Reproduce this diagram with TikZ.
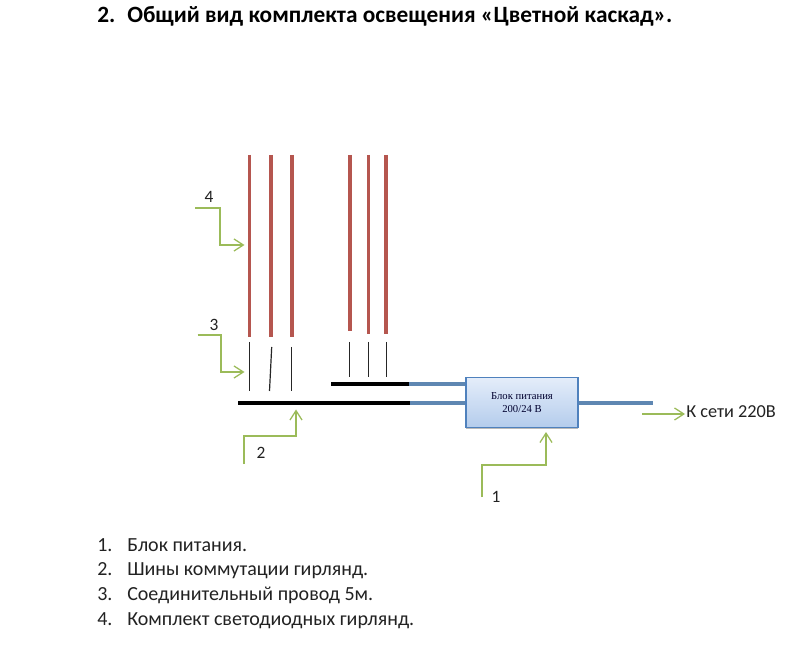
\documentclass[tikz,border=0pt]{standalone}
\usepackage{fontspec}
\setmainfont{Carlito}
\newfontfamily\boxfont{Liberation Serif}
\usetikzlibrary{arrows.meta,shadows}
\definecolor{garland}{HTML}{B5564F}
\definecolor{callout}{HTML}{9BBB59}
\definecolor{cable}{HTML}{5F87B2}
\definecolor{boxedge}{HTML}{4F81BD}
\definecolor{boxtop}{HTML}{E4EDFA}
\definecolor{boxbot}{HTML}{B4CCEC}
\definecolor{inktext}{HTML}{222222}
\tikzset{
  px/.style={x=0.75pt,y=-0.75pt},
  garlandline/.style={draw=garland,line width=2.5pt},
  wire/.style={draw=black!85,line width=0.9pt},
  bus/.style={draw=black,line width=3pt},
  cableline/.style={draw=cable,line width=3pt},
  calloutline/.style={draw=callout,line width=0.95pt,-{Straight Barb[length=7pt,width=9pt,line width=0.95pt]}},
  lbl/.style={font=\fontsize{13pt}{15pt}\selectfont,text=inktext,inner sep=0pt},
  listitem/.style={font=\fontsize{15pt}{18pt}\selectfont,text=inktext,inner sep=0pt,anchor=base west},
}
\begin{document}
\begin{tikzpicture}[px]
\useasboundingbox (0,0) rectangle (793,659);
\fill[white] (0,0) rectangle (793,659);
% heading
\node[font=\bfseries\fontsize{17.5pt}{20pt}\selectfont,inner sep=0pt,anchor=base west,text=black] (numh) at (97,23) {2.};
\node[font=\bfseries\fontsize{17.5pt}{20pt}\selectfont,inner sep=0pt,anchor=base west,text=black] (head) at (127,23) {Общий вид комплекта освещения «Цветной каскад».};
% garlands
\foreach \n/\xa/\ya/\xb/\yb in {a/249.5/155/249.5/337,b/271/155/271/337,c/292/155/292/337,d/350/155/350/331,e/368.5/155/368.5/334,f/386/155/386/334}{
  \coordinate (g\n t) at (\xa,\ya);
  \coordinate (g\n b) at (\xb,\yb);
  \draw[garlandline] (g\n t) -- (g\n b);
}
% connecting wires
\foreach \n/\xa/\ya/\xb/\yb in {a/249.5/342/249.5/391,b/271.7/347/269.5/391,c/291.7/347/291.7/391,d/349.5/342/349.5/377,e/368.5/342/368.5/377,f/386.5/342/386.5/377}{
  \coordinate (w\n t) at (\xa,\ya);
  \coordinate (w\n b) at (\xb,\yb);
  \draw[wire] (w\n t) -- (w\n b);
}
% box
\node[draw=boxedge,line width=0.8pt,top color=boxtop,bottom color=boxbot,minimum width=84pt,minimum height=37.5pt,inner sep=0pt,align=center,
      font=\boxfont\fontsize{8pt}{10pt}\selectfont,text=black!70!blue!60!black,
      drop shadow={shadow xshift=0pt,shadow yshift=-1.2pt,opacity=.45,fill=black!60},anchor=center] (psu) at (522,402.5) {Блок питания\\200/24 В};
% buses and cables
\coordinate (bus1a) at (238,403);
\coordinate (bus1b) at (410,403);
\coordinate (bus2a) at (331,384.5);
\coordinate (bus2b) at (409,384.5);
\coordinate (out) at (653,403.5);
\draw[cableline] (bus1b) -- (psu.west |- bus1b);
\draw[cableline] (bus2b) -- (psu.west |- bus2b);
\draw[cableline] (psu.east |- out) -- (out);
\draw[bus] (bus1a) -- (bus1b);
\draw[bus] (bus2a) -- (bus2b);
% labels
\node[lbl] (n4) at (209,197) {4};
\node[lbl] (n3) at (214,325) {3};
\node[lbl] (n2) at (261,453) {2};
\node[lbl] (n1) at (496,497) {1};
\node[font=\fontsize{13.7pt}{16pt}\selectfont,text=inktext,inner sep=0pt,anchor=west] (mains) at (686,412) {К сети 220В};
% callouts
\coordinate (c4) at (195,208);
\coordinate (t4) at (244.5,245);
\coordinate (c3) at (197.5,335);
\coordinate (t3) at (244.5,372);
\coordinate (c2) at (244,464);
\coordinate (t2) at (296,409.5);
\coordinate (c1) at (482,497);
\coordinate (t1) at (546,432);
\coordinate (c0) at (642,414);
\draw[calloutline] (c4) -- (220,208) -- (220,245) -- (t4);
\draw[calloutline] (c3) -- (221,335) -- (221,372) -- (t3);
\draw[calloutline] (c2) -- (244,436) -- (296,436) -- (t2);
\draw[calloutline] (c1) -- (482,465) -- (546,465) -- (t1);
\draw[calloutline] (c0) -- (685,414);
% list
\foreach \n/\y/\t in {1/551/Блок питания.,2/575/Шины коммутации гирлянд.,3/600/Соединительный провод 5м.,4/625/Комплект светодиодных гирлянд.}{
  \node[listitem] (num\n) at (97,\y) {\n.};
  \node[listitem] (item\n) at (127,\y) {\t};
}
\end{tikzpicture}
\end{document}
